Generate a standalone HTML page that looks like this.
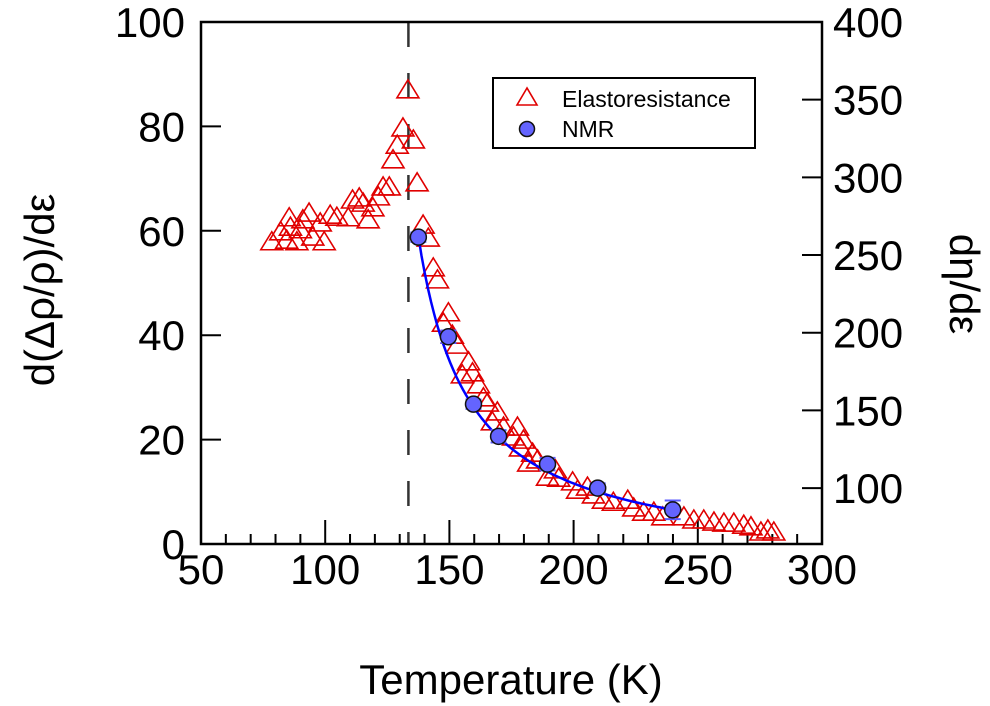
<!DOCTYPE html>
<html><head><meta charset="utf-8"><style>
html,body{margin:0;padding:0;background:#fff;}
svg{display:block;font-family:"Liberation Sans",Arial,sans-serif;}
</style></head><body>
<svg id="chart" width="990" height="706" viewBox="0 0 990 706">
<g id="plot"></g>
</svg>
<script>
const erTemps=[133.3,131.3,135.5,129,127.3,137,125.8,123.3,121.4,111,113.7,115.3,119.2,109.3,117.3,104.7,102,98,93.5,91,85.5,82.1,86,90,95,99.6,78.5,88.6,84.5,139.4,141.5,143.5,145.2,149.6,147.6,151.2,153.2,157.7,159.3,155.2,161.7,163.7,165.3,169.3,167.3,171.8,177.4,175.8,179.8,178.6,183.5,185.5,181.9,192.7,189.5,194,199.6,201.6,205.6,208,212,216,221.8,224.2,228.2,232.3,235.9,244.4,248.4,252.4,256.5,260.5,264.5,268.5,271.4,275.4,278.2,280.6];
const erValues=[87,79.7,77.4,76.4,73.6,69.2,68.4,68.4,66.5,65.9,66.3,65.3,64.4,62.5,62.1,62.6,63,61.5,63.4,62.1,62.5,59.8,60.7,60.2,58.8,57.9,57.9,57.9,58.2,61.1,58.6,52.9,50.6,44.3,42.3,40,38.1,34.9,32.8,32.4,30.5,28,27,25.3,23.4,22.4,22.4,20.5,19.9,18.4,17.4,16.1,15.5,14.2,12.8,12.6,11.9,10.3,10.9,9.4,8.4,8,8.4,6.9,6.1,6.1,5.2,5.2,4.6,4.6,4.2,4,4,3.6,3.3,2.3,2.7,2.3];
const nmrTemps=[137.5,149.6,159.7,169.8,189.5,209.7,239.9];
const nmrValues=[261.5,197.4,154,133.3,115.4,100,86];
const nmrErrors=[3,4,3,4,4,3,6];
const fitParams=[4330,117,50.8]; // A, T0, C  (C + A/(T-T0))
const fitRange=[137.5,240];
const xTicks=[50,100,150,200,250,300];
const yLeftTicks=[0,20,40,60,80,100];
const yRightTicks=[100,150,200,250,300,350,400];
const transitionT=[133.5];

const L=201,R=822,T=22,B=544;
const xS=v=>L+(v-50)/250*(R-L);
const yL=v=>B-(v/100)*(B-T);
const yR=v=>T+(400-v)/336*(B-T);
const NS="http://www.w3.org/2000/svg";
const g=document.getElementById('plot');
function mk(tag,attrs,parent){const e=document.createElementNS(NS,tag);for(const k in attrs)e.setAttribute(k,attrs[k]);(parent||g).appendChild(e);return e;}

let dl=mk('line',{x1:xS(transitionT[0]),x2:xS(transitionT[0]),y1:T,y2:B,stroke:'#333','stroke-width':2.5,'stroke-dasharray':'25,26'});



let fr=mk('rect',{x:L,y:T,width:R-L,height:B-T,fill:'none',stroke:'#000','stroke-width':2.5});



for(let v=50;v<=300;v+=10){const x=xS(v);const major=(v%50===0);
 let t=mk('line',{x1:x,x2:x,y1:B,y2:B-(major?24:10),stroke:'#000','stroke-width':2});
 
 }
xTicks.forEach(v=>{let t=mk('text',{x:xS(v),y:584,'font-size':42,'text-anchor':'middle'});t.textContent=v;
 
 });
yLeftTicks.forEach(v=>{const y=yL(v);
 let l=mk('line',{x1:L,x2:L+20,y1:y,y2:y,stroke:'#000','stroke-width':2});
 
 
 let t=mk('text',{x:185,y:y+15,'font-size':42,'text-anchor':'end'});t.textContent=v;
 
 });
yRightTicks.forEach(v=>{const y=yR(v);
 let l=mk('line',{x1:R-20,x2:R,y1:y,y2:y,stroke:'#000','stroke-width':2});
 
 
 let t=mk('text',{x:833,y:y+15,'font-size':42,'text-anchor':'start'});t.textContent=v;
 
 });

erTemps.forEach((tv,i)=>{const x=xS(tv),y=yL(erValues[i]);
 let p=mk('polygon',{points:`${x},${y-10} ${x-11},${y+8} ${x+11},${y+8}`,fill:'none',stroke:'#e00000','stroke-width':1.6});
 
 });

let d='';for(let k=0;k<=80;k++){const tv=fitRange[0]+(fitRange[1]-fitRange[0])*k/80;const v=fitParams[2]+fitParams[0]/(tv-fitParams[1]);d+=(k?'L':'M')+xS(tv).toFixed(1)+','+yR(v).toFixed(1);}
let fc=mk('path',{d:d,fill:'none',stroke:'#0000ff','stroke-width':2.5});



nmrTemps.forEach((tv,i)=>{const x=xS(tv),y=yR(nmrValues[i]),e=nmrErrors[i];
 const y1=yR(nmrValues[i]+e),y2=yR(nmrValues[i]-e);
 let eb=mk('path',{d:`M${x},${y1}L${x},${y2}M${x-8},${y1}L${x+8},${y1}M${x-8},${y2}L${x+8},${y2}`,stroke:'#5c5cff','stroke-width':2,fill:'none'});
 
 
 let c=mk('circle',{cx:x,cy:y,r:8,fill:'#6464ff',stroke:'#111','stroke-width':1.5});
 
 });
</script>
<svg style="position:absolute;left:0;top:0" width="990" height="706">
 <g>
  <rect x="493" y="78" width="262" height="70" fill="#fff" stroke="#000" stroke-width="2"/>
  <polygon points="527,88 517,105 537,105" fill="none" stroke="#e00000" stroke-width="1.6"/>
  <text x="562" y="107" font-size="23" font-family="Liberation Sans, sans-serif">Elastoresistance</text>
  <circle cx="527" cy="129" r="7.5" fill="#6464ff" stroke="#111" stroke-width="1.5"/>
  <text x="562" y="137" font-size="23" font-family="Liberation Sans, sans-serif">NMR</text>
 </g>
 <text x="511" y="694" font-size="42" text-anchor="middle" font-family="Liberation Sans, sans-serif">Temperature (K)</text>
 <text transform="translate(54,290) rotate(-90)" font-size="42" text-anchor="middle" font-family="Liberation Sans, sans-serif">d(Δρ/ρ)/dε</text>
 <text transform="translate(950,284) rotate(90)" font-size="42" text-anchor="middle" font-family="Liberation Sans, sans-serif">dη/dε</text>
</svg>
</body></html>
